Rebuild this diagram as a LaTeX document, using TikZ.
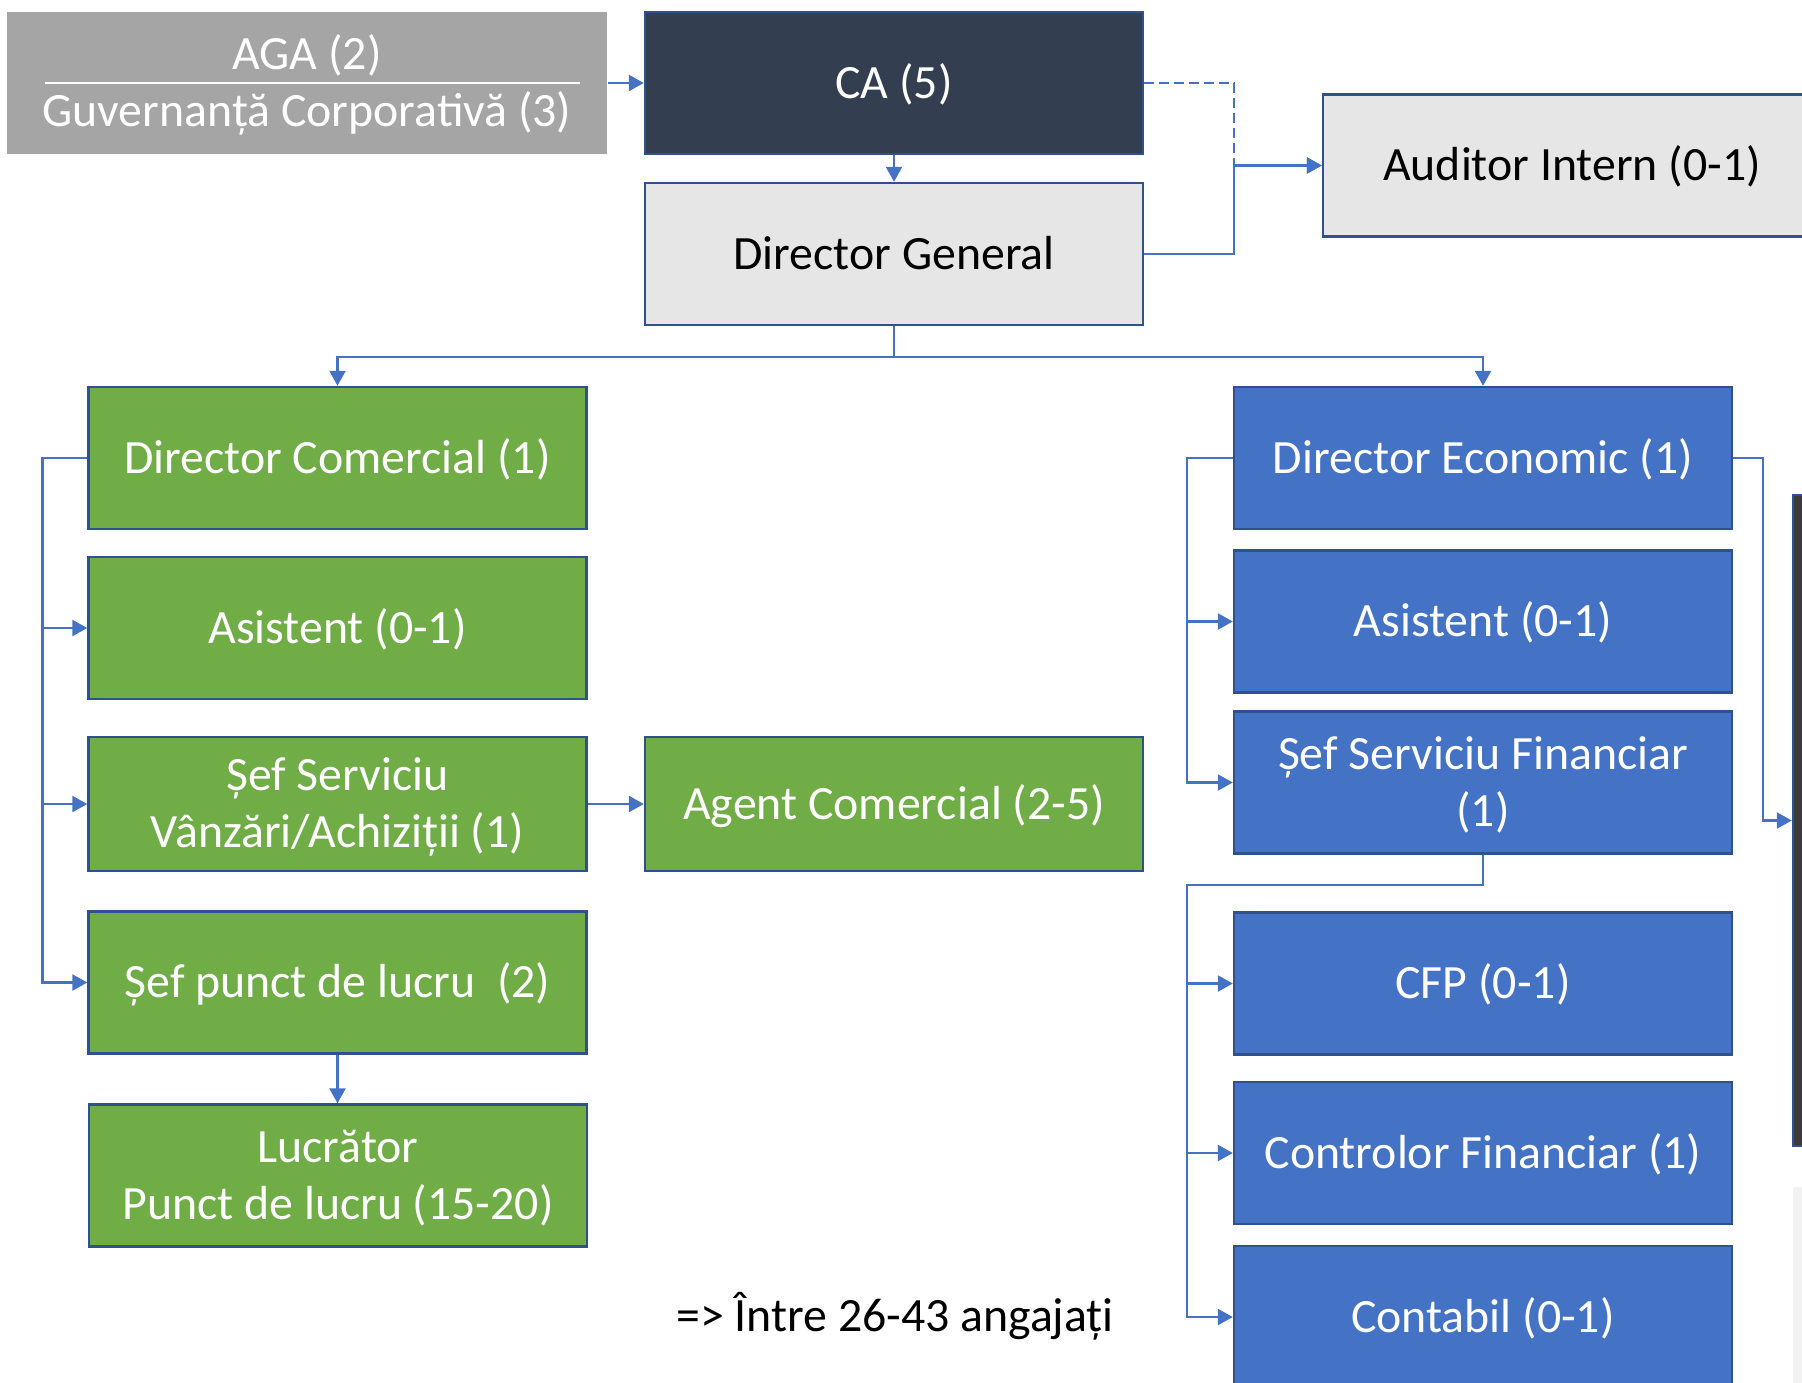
\documentclass[tikz,border=0pt]{standalone}
\usepackage{fontspec}
\setmainfont{Carlito}
\usetikzlibrary{arrows.meta}
\definecolor{linkblue}{HTML}{4472C4}
\definecolor{edgeblue}{HTML}{2F528F}
\definecolor{commgreen}{HTML}{70AD47}
\definecolor{econblue}{HTML}{4472C4}
\definecolor{navy}{HTML}{333F50}
\definecolor{agagrey}{HTML}{A5A5A5}
\definecolor{lightgrey}{HTML}{E7E6E6}
\definecolor{darkside}{HTML}{3B3B3B}
\definecolor{paleside}{HTML}{F2F2F2}

\begin{document}
\begin{tikzpicture}[x=0.5pt, y=-0.5pt,
	>={Triangle[length=7.5pt,width=8pt]},
	every node/.style={font=\fontsize{23.9pt}{28.5pt}\selectfont},
	box/.style={draw=edgeblue, line width=1.2pt, minimum width=249pt, minimum height=71pt,
		inner sep=0pt, text height=15pt, text depth=0pt},
	twoline/.style={align=center, text height=43.5pt, text depth=0pt},
	comm/.style={box, fill=commgreen, text=white},
	econ/.style={box, fill=econblue, text=white},
	link/.style={linkblue, line width=1.2pt}]
			\useasboundingbox (0,0) rectangle (1802,1382);
			\clip (0,0) rectangle (1802,1382);
			% top
			\node[box, draw=none, fill=agagrey, text=white, minimum width=300pt, twoline] (aga) at (307,83) {AGA (2)\\Guvernanță Corporativă (3)};
			\draw[white, line width=0.8pt] (45,83) -- (580,83);
			\node[box, fill=navy, text=white] (ca) at (894,83) {CA (5)};
			\node[box, fill=lightgrey] (dg) at (894,254) {Director General};
			\node[box, fill=lightgrey] (aud) at (1572,165.5) {Auditor Intern (0-1)};
			% comercial
			\node[comm] (dcom) at (337.5,458) {Director Comercial (1)};
			\node[comm] (asc) at (337.5,628) {Asistent (0-1)};
			\node[comm, minimum height=67pt, twoline] (ssv) at (337.5,804) {Șef Serviciu\\Vânzări/Achiziții (1)};
			\node[comm, minimum height=67pt] (agent) at (894,804) {Agent Comercial (2-5)};
			\node[comm] (spl) at (337.5,982.5) {Șef punct de lucru\ \ (2)};
			\node[comm, twoline] (lucr) at (338,1175.5) {Lucrător\\Punct de lucru (15-20)};
			% economic
			\node[econ] (dec) at (1483,458) {Director Economic (1)};
			\node[econ] (asb) at (1483,621.5) {Asistent (0-1)};
			\node[econ, twoline] (ssf) at (1483,782.5) {Șef Serviciu Financiar\\(1)};
			\node[econ] (cfp) at (1483,983.5) {CFP (0-1)};
			\node[econ] (ctrl) at (1483,1153) {Controlor Financiar (1)};
			\node[econ] (cont) at (1483,1317) {Contabil (0-1)};
			% cut off at the edge
			\node[draw=edgeblue, line width=1.2pt, fill=darkside, minimum width=50pt, minimum height=325.5pt, inner sep=0pt] (side) at (1843,820.5) {};
			\node[fill=paleside, minimum width=50pt, minimum height=110pt, inner sep=0pt] (sidelow) at (1843,1297) {};
			\node[anchor=base] (total) at (895,1331) {=> Între 26-43 angajați};
			% links
			\draw[link, ->] (aga) -- (ca);
			\draw[link, ->] (ca) -- (dg);
			\draw[link, dash pattern=on 5pt off 2.5pt, ->] (ca.east) -- ++(90,0) |- (aud.west);
			\draw[link, ->] (dg.east) -- ++(90,0) |- (aud.west);
			\draw[link, ->] (dg.south) -- ++(0,31) -| (dcom.north);
			\draw[link, ->] (dg.south) -- ++(0,31) -| (dec.north);
			\foreach \n in {asc, ssv, spl}
				\draw[link, ->] (dcom.west) -- ++(-45,0) |- (\n.west);
			\draw[link, ->] (ssv) -- (agent);
			\draw[link, ->] (spl.south) -- (spl.south |- lucr.north);
			\foreach \n in {asb, ssf}
				\draw[link, ->] (dec.west) -- ++(-46,0) |- (\n.west);
			\coordinate (fbus) at (1187,885);
			\foreach \n in {cfp, ctrl, cont}
				\draw[link, ->] (ssf.south) |- (fbus) |- (\n.west);
			\draw[link, ->] (dec.east) -- ++(30,0) |- (side.west);
		\end{tikzpicture}
\end{document}
